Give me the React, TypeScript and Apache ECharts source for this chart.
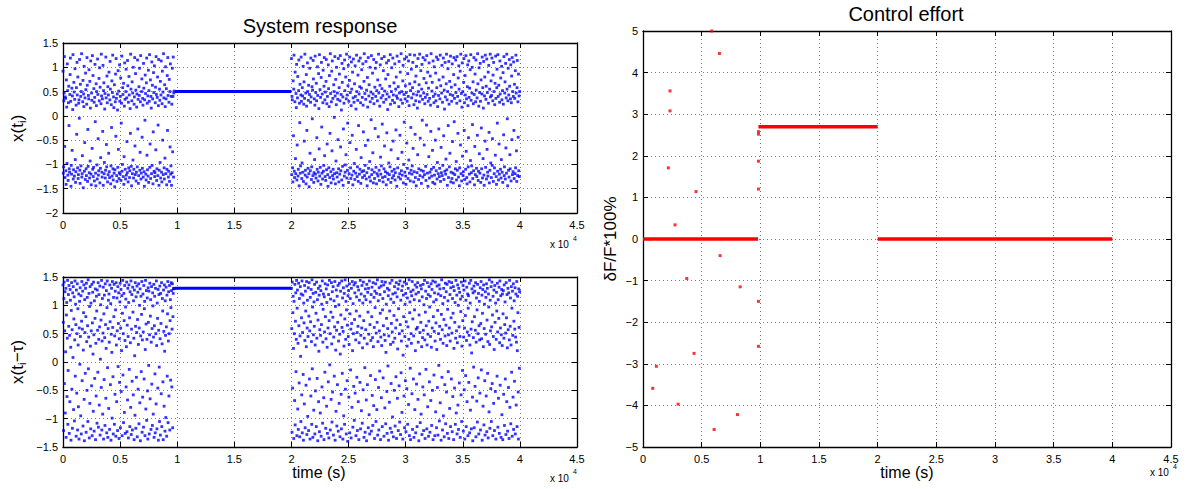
import React, { useEffect, useRef } from "react";
import * as echarts from "echarts";

// ---------- DATA ----------
// sampling: t_i = segStart + i * DT (s)
const DT = 25;
const seg1Start = 0;
const seg2Start = 20000;

// x(t_i), first chaotic segment
const xSeg1 = [
  0.92,-1.18,-1.05,0.31,0.47,1.22,-0.63,-1.27,0.39,0.36,-1.13,-1.41,0.74,0.18,-0.98,1.07,0.52,-1.22,-1.33,0.27,
  0.61,-0.2,-1.09,-1.16,0.44,0.85,1.19,0.3,-1.45,-1.02,-1.2,0.57,-0.71,0.41,0.13,1.26,-1.3,-1.11,0.69,0.49,
  -1.24,0.34,0.97,-0.9,-1.37,-1.15,0.22,0.58,-0.38,1.1,0.43,-1.07,0.8,-1.29,-1.21,0.26,0.33,-0.05,1.16,-1.12,
  -1.39,0.65,0.4,-1.03,0.5,1.28,-1.26,-1.19,-0.82,0.29,0.73,-1.48,0.45,0.19,1.02,-1.14,-0.55,0.37,-1.31,0.88,
  0.54,-1.09,-1.23,0.24,1.2,0.63,-1.35,-0.28,-1.04,0.42,0.35,0.95,-1.17,-1.28,0.71,-0.93,0.16,1.13,-1.2,-1.42,
  0.47,0.32,-0.67,1.24,-1.1,0.83,-1.25,-1.06,0.56,0.28,-1.34,0.38,1.06,-0.12,-1.18,-1.44,0.66,0.21,0.5,-1.01,
  -1.3,1.17,0.44,-0.47,-1.22,-1.13,0.77,0.31,0.99,-1.38,0.59,-1.08,-0.86,0.25,1.27,0.41,-1.16,-1.26,0.35,-0.32,
  1.04,-1.43,0.52,0.68,-1.19,-0.96,0.14,0.46,-1.28,-1.12,1.21,0.37,-0.59,-1.05,0.82,0.27,-1.36,0.6,-1.21,0.43,
  -0.77,0.9,-1.15,-1.27,0.33,1.12,0.55,-1.4,-1.03,0.23,-0.24,0.72,-1.24,0.48,1.25,-1.09,-1.32,0.39,0.17,-1.18,
  0.64,-1.46,-1.11,0.29,0.86,-0.42,1.18,0.36,-1.23,-1.35,0.45,0.12,-1.06,0.93,-0.69,0.51,-1.29,-1.17,1.05,0.3,
  -1.2,0.4,0.78,-1.33,-0.15,0.26,1.23,-1.14,-1.0,0.58,0.44,-1.25,0.67,-1.41,-0.84,0.2,1.09,0.34,-1.1,-1.3,
  0.5,0.96,-1.22,0.37,-0.53,-1.17,1.14,0.62,-1.36,0.28,-1.07,0.81,0.43,-1.27,-1.13,0.15,-0.36,1.27,0.55,-1.04,
  -1.44,0.31,0.7,-1.19,0.47,-0.91,1.0,-1.28,-1.1,0.24,0.39,1.2,-0.62,-1.21,0.87,0.53,-1.34,-1.16,0.18,0.45,
  -1.05,1.15,-0.27,0.34,-1.39,-1.23,0.6,0.42,0.98,-1.12,-0.75,0.29,1.24,-1.3,-1.18,0.5,0.76,-0.44,-1.08,0.36,
  0.22,-1.26,1.08,0.57,-1.15,-1.45,0.33,-0.09,0.84,0.46,-1.2,-1.32,0.68,1.19,-0.81,0.26,-1.11,0.41,-1.24,0.94,
  -1.37,0.52,0.3,1.26,-1.06,-0.58,0.74,-1.29,0.4,0.16,-1.19,1.11,-1.02,0.63,0.35,-1.4,-0.33,0.89,0.48,-1.14,
  1.03,-1.25,-1.17,0.27,0.59,-0.7,1.22,0.44,-1.33,-1.09,0.38,0.8,-1.23,-0.19,0.21,1.16,-1.43,-1.12,0.55,0.32,
  -0.96,0.71,-1.28,0.43,1.13,-1.16,-1.36,0.25,0.92,-0.5,0.49,-1.21,1.28,0.37,-1.07,-1.3,0.64,-0.87,0.19,1.01,
  -1.19,0.35,0.56,-1.42,-1.1,0.83,-0.3,1.2,0.42,-1.26,-1.14,0.28,0.75,-1.35,0.5,-0.64,1.07,-1.2,-1.03,0.4,
  -1.43,0.24,-1.17,0.98,-0.74,0.4,1.21,-1.26,0.47,0.51,
];
// x(t_i), second chaotic segment
const xSeg2 = [
  1.18,-1.21,0.4,0.33,-1.07,-1.36,0.72,-0.41,0.55,1.25,-1.14,-1.27,0.29,0.9,-0.88,-1.19,0.46,0.17,1.06,-1.32,
  -0.6,0.37,0.81,-1.24,-1.1,0.52,1.15,-1.44,0.26,-0.14,0.65,-1.18,-1.03,0.43,1.21,0.3,-1.29,-0.97,0.58,0.41,
  -1.16,1.02,-1.35,0.24,0.7,-0.52,0.36,1.27,-1.22,-1.12,0.47,-1.4,0.85,0.2,-0.3,-1.26,1.09,0.5,-1.08,0.32,
  0.63,-1.19,-1.46,0.44,0.98,-0.77,-1.13,0.28,1.19,0.39,-1.31,-1.05,0.6,-0.06,0.53,-1.23,1.14,0.76,-1.37,-1.17,
  0.35,-0.9,0.22,1.23,-1.2,0.48,-1.28,0.67,0.31,-0.45,-1.1,1.01,0.42,-1.34,-1.16,0.87,0.15,-0.68,1.26,-1.24,
  0.54,-1.06,0.38,-1.41,0.79,1.1,-0.23,-1.18,0.45,-1.3,0.27,0.94,-1.14,-1.02,0.61,1.2,-0.82,0.33,-1.25,0.49,
  -1.33,0.71,1.16,-1.11,0.25,-0.58,0.4,-1.21,-1.45,1.05,0.56,-1.07,0.19,0.83,-1.27,-0.36,1.28,0.46,-1.15,-1.38,
  0.29,0.92,-0.72,1.13,-1.23,0.36,-1.1,-1.3,0.64,0.5,-0.03,-1.19,1.22,0.41,-1.4,0.75,-0.93,0.23,1.0,-1.17,
  -1.26,0.47,0.34,-0.49,1.18,-1.09,-1.36,0.58,0.86,-1.2,0.31,1.24,-0.64,-1.13,0.44,0.12,-1.32,1.08,0.69,-1.04,
  0.39,-1.43,-0.27,0.97,0.26,-1.24,1.15,0.52,-1.16,-1.01,0.8,-0.8,0.35,1.27,-1.28,0.43,-1.12,-0.15,0.62,1.04,
  -1.37,0.3,-1.19,0.73,1.21,-0.55,0.48,-1.07,-1.29,0.21,1.11,0.55,-1.22,-0.4,0.9,-1.42,0.37,1.17,-1.14,0.28,
  -0.98,0.66,-1.31,1.03,0.4,-1.18,0.14,-0.69,1.25,0.5,-1.25,-1.05,0.32,0.84,-1.35,-0.2,1.13,0.45,-1.2,0.6,
  -1.1,1.19,0.27,-1.39,-0.86,0.57,0.95,-1.15,0.38,-1.27,1.07,0.22,-0.33,-1.13,0.71,1.28,-1.23,0.46,-1.02,-0.61,
  0.34,1.12,-1.3,0.53,-1.17,-1.44,0.79,0.18,-0.5,1.2,-1.08,0.41,0.64,-1.26,-0.94,1.0,0.29,-1.34,0.49,-0.08,
  1.24,-1.21,-1.11,0.36,0.88,-0.76,0.45,-1.38,1.16,0.25,-1.16,-1.29,0.59,-0.26,0.98,0.4,-1.06,1.1,-1.4,0.52,
  -1.19,0.31,0.74,-1.24,-0.43,1.27,0.47,-1.12,-1.33,0.2,0.63,1.05,-0.85,-1.2,0.37,-1.03,1.18,0.56,-0.17,-1.27,
  0.42,-1.36,0.93,0.28,-1.09,1.22,-0.62,0.51,-1.25,-1.15,0.76,0.34,-1.42,1.09,-0.35,0.45,-1.18,0.13,0.85,-1.31,
  1.14,-0.97,0.39,-1.21,0.61,-1.05,1.26,0.24,-1.37,-0.7,0.5,0.99,-1.14,-1.28,0.32,1.19,-0.52,0.43,-1.23,0.68,
  -1.1,0.27,1.07,-1.32,-1.17,0.55,-0.29,0.8,0.41,-1.45,1.23,0.36,-1.07,-0.88,0.6,-1.26,0.19,1.12,0.47,-1.19,
  -0.4,0.9,-1.3,0.33,1.28,-1.13,0.5,-0.75,-1.22,0.26,0.72,1.04,-1.38,-1.0,0.44,-0.13,1.17,-1.16,0.35,0.62,
  -1.24,-1.41,0.48,1.21,-0.56,0.3,-1.08,0.87,-1.29,0.4,1.13,-0.91,0.21,-1.18,0.66,1.26,-1.34,0.52,-0.24,-1.12,
  0.96,0.37,-1.2,-1.03,0.58,1.1,-0.67,0.45,-1.36,0.23,-1.15,1.25,0.7,-0.38,-1.27,0.31,0.82,-1.44,1.02,0.43,
  -1.17,0.16,-0.8,1.18,0.5,-1.31,-1.09,0.64,0.29,1.27,-1.23,-0.46,0.41,0.93,-1.12,-1.39,0.55,1.06,-0.09,0.34,
  -1.26,1.2,-1.14,0.47,0.77,-0.6,-1.21,0.25,1.15,0.38,-1.04,-1.33,0.68,-0.19,1.24,0.44,-1.18,0.9,-1.45,0.3,
  0.57,-0.84,1.09,-1.28,0.36,-1.16,0.82,0.22,-0.32,1.28,-1.1,-1.24,0.51,0.69,-0.71,-1.37,1.13,0.4,-1.06,0.27,
  1.01,-1.22,-1.4,0.45,-0.5,0.88,0.31,-1.13,1.21,0.58,-1.3,-0.96,0.19,1.16,-1.19,0.42,-0.27,0.74,-1.25,-1.08,
  0.35,1.25,-1.35,0.62,-0.65,-1.17,0.47,1.04,-1.23,0.28,-1.02,0.8,1.19,-0.41,-1.31,0.53,0.14,-1.14,1.1,0.39,
  -1.2,-0.89,0.66,1.27,-1.11,0.33,-1.43,0.5,0.97,-0.2,-1.27,1.12,0.24,-1.05,0.71,-0.77,0.44,1.23,-1.36,-1.16,
  0.59,0.3,-1.29,1.07,-0.53,0.42,-1.18,-1.38,0.85,1.2,-0.12,0.36,-1.21,0.64,-1.09,1.15,0.48,-0.94,-1.32,0.26,
  1.22,-1.12,0.4,-0.36,0.78,-1.26,1.03,0.55,-1.44,-1.07,0.31,0.92,-0.6,1.27,-1.19,0.46,-1.34,0.18,1.09,-0.83,
  0.5,-1.23,-1.15,0.69,1.18,-0.3,0.27,-1.31,0.83,0.43,-1.1,1.24,-0.73,0.35,-1.27,-1.4,0.6,1.05,0.21,-1.05,
  -0.45,1.13,0.38,-1.2,0.57,-1.36,0.95,-0.92,1.26,0.32,-1.17,-1.03,0.47,1.0,-0.18,-1.29,0.7,0.25,-1.13,1.2,
  0.44,-1.42,-0.63,0.86,-1.21,0.29,1.15,0.53,-1.08,-1.25,0.37,-0.4,1.28,0.66,-1.33,-1.14,0.2,0.99,-0.78,0.48,
  -1.18,1.08,0.3,-1.37,0.74,-0.25,-1.09,0.45,1.21,-1.28,0.58,-0.88,0.16,1.12,-1.22,-1.43,0.41,0.8,-0.52,1.25,
  -1.06,0.34,0.61,-1.3,1.17,-0.69,0.48,-1.16,-1.24,0.9,0.26,1.04,-0.34,-1.38,0.55,-1.12,1.27,0.39,-0.97,0.72,
  -1.27,0.42,1.19,-1.02,-0.47,0.31,0.84,-1.35,1.1,0.5,-1.19,-1.07,0.23,0.67,-0.81,1.23,0.36,-1.25,-1.41,0.58,
  0.96,-0.15,-1.14,1.26,0.4,-1.32,0.63,-0.58,-1.2,0.28,1.13,0.45,-1.1,0.78,-1.28,-0.9,1.02,0.33,-1.16,0.52,
  -1.37,0.89,0.24,-0.39,1.22,-1.23,-1.05,0.47,0.7,-1.3,1.08,-0.66,0.37,-1.18,1.27,0.55,-0.06,-1.44,0.31,0.98,
  -1.12,0.43,-1.26,1.16,0.61,-0.8,-1.09,0.35,1.05,-1.34,0.27,0.82,-0.49,1.2,-1.21,0.5,-1.15,0.4,1.11,-0.3,
  -1.29,0.65,0.36,-1.19,0.93,-1.07,1.25,0.47,-0.72,-1.35,0.58,1.14,-1.23,0.29,-0.44,0.86,-1.13,0.41,-1.25,0.5,
];
// x(t_i - tau), first chaotic segment
const xdSeg1 = [
  1.36,0.7,-1.21,1.12,1.41,-0.38,0.55,1.24,-0.9,0.18,1.3,-1.33,0.83,1.05,-0.61,0.42,1.44,-1.1,-0.15,1.19,
  0.63,1.35,-1.26,0.47,-0.7,1.28,1.09,0.26,-1.38,0.91,1.4,-0.48,0.57,-1.17,1.22,0.08,1.33,-0.84,0.76,1.15,
  -1.04,0.39,1.43,-0.25,1.02,0.66,-1.31,1.27,-0.55,0.5,1.38,-1.2,0.94,0.3,-0.79,1.2,-1.36,0.6,1.07,-0.04,
  1.31,0.45,-0.95,1.17,-1.27,0.72,1.42,-0.33,0.58,1.25,-1.13,0.21,0.87,1.36,-0.66,-1.39,1.1,0.52,-0.2,1.3,
  0.8,-1.24,1.39,0.36,-0.5,1.14,0.64,-1.05,1.45,-0.12,0.44,1.21,-1.34,0.98,-0.73,1.33,0.28,-1.18,1.04,0.55,
  -0.42,1.37,-1.3,0.69,1.23,0.14,-0.87,1.41,0.48,-1.22,1.08,-0.29,0.77,1.29,-1.37,0.33,-0.6,1.16,0.9,-1.08,
  1.27,0.56,-0.18,1.4,-1.15,0.4,1.19,-0.76,0.62,1.34,-1.29,0.05,1.01,0.74,-0.45,1.44,-1.2,0.37,1.12,-0.92,
  0.51,1.32,-1.36,0.85,-0.31,1.18,0.43,-1.12,1.38,0.66,-0.64,0.24,1.26,-1.25,0.96,1.43,-0.1,-1.33,0.59,1.09,
  -0.82,1.2,0.35,-1.19,1.36,0.71,-0.4,1.03,-1.38,0.49,1.3,0.17,-0.99,1.42,0.61,-0.26,-1.27,1.14,0.8,1.37,
  -1.1,0.46,-0.57,1.25,0.92,-1.31,1.4,0.3,-0.7,1.13,0.55,-1.21,1.33,-0.08,0.68,1.22,-1.35,0.41,-0.36,1.06,
  1.39,-1.16,0.6,1.28,-0.52,0.2,1.17,-1.3,0.86,1.44,-0.23,0.5,-1.07,1.21,0.73,-0.89,1.35,0.38,-1.26,0.97,
  1.11,-0.44,0.27,1.41,-1.23,0.65,-0.67,1.3,0.45,-1.34,1.05,1.36,-0.13,0.78,-1.14,1.24,0.34,-0.8,1.43,-1.28,
  0.58,1.19,-0.34,-1.2,1.32,0.88,-0.58,1.08,0.42,-1.37,1.27,0.11,-0.94,1.4,0.63,-1.17,1.15,-0.27,0.52,1.34,
  -1.32,0.75,1.23,-0.48,0.31,1.38,-1.09,0.6,1.0,-0.72,1.29,-1.39,0.46,1.16,-0.17,0.84,1.42,-1.24,0.39,-0.62,
  1.2,0.53,-1.15,1.35,-0.3,0.94,1.07,-1.3,0.22,1.44,-0.83,0.67,1.26,-1.03,0.4,1.13,-0.51,-1.36,1.31,0.7,
  -0.06,1.25,-1.27,0.48,1.39,-0.65,0.81,1.1,-1.19,0.35,1.33,-0.39,0.59,-1.12,1.22,0.99,-0.92,0.44,1.37,-1.33,
  0.64,1.16,-0.21,-1.25,1.3,0.5,-0.74,1.43,0.29,-1.18,1.04,0.77,-0.46,1.28,-1.38,0.56,1.19,-0.09,-1.05,1.34,
  0.41,-1.29,1.21,0.68,-0.56,1.4,-1.14,0.32,1.12,0.9,-0.35,-1.37,1.27,0.54,-0.78,1.36,0.19,-1.22,1.08,0.47,
  -0.98,1.32,0.62,-1.31,1.18,-0.25,0.85,1.42,-1.07,0.37,1.24,-0.6,0.5,1.35,-1.2,0.73,1.1,-0.32,0.96,1.4,
  1.26,-0.44,0.58,1.38,-1.16,0.8,1.21,1.29,1.3,1.3,
];
// x(t_i - tau), second chaotic segment
const xdSeg2 = [
  1.3,0.59,-1.24,1.41,-0.46,0.87,1.16,0.24,-1.35,1.07,0.5,-0.68,1.37,-1.11,0.72,1.22,-0.17,0.4,1.44,-1.3,
  0.95,1.27,-0.83,0.33,-1.19,1.39,0.64,-0.37,1.12,-1.32,0.46,1.33,0.1,-1.05,1.2,0.78,-0.58,1.43,-1.25,0.52,
  1.18,-0.22,-1.38,1.04,0.69,-0.74,1.35,0.38,-1.16,1.25,0.9,-0.41,0.27,1.42,-1.28,0.6,1.09,-0.96,0.45,1.31,
  -1.21,0.81,1.4,-0.3,0.55,-1.36,1.14,0.71,-0.6,1.28,0.36,-1.1,1.45,-0.12,0.97,-1.33,1.21,0.48,-0.85,1.06,
  0.63,1.37,-1.27,0.3,-0.51,1.23,0.86,-1.14,1.41,0.42,-0.29,1.1,-1.39,0.74,1.3,-0.7,0.19,1.18,-1.23,0.57,
  1.34,-0.9,0.47,1.26,-1.31,0.66,1.02,-0.44,1.43,-1.08,0.35,0.93,1.2,-0.63,-1.37,1.15,0.53,-0.18,1.38,0.8,
  -1.17,0.41,1.29,-0.78,1.05,0.26,-1.26,1.36,0.6,-0.35,1.19,-1.34,0.73,1.44,-0.05,0.5,-1.2,1.11,0.88,-0.66,
  1.4,0.32,-1.06,1.24,-0.53,0.79,1.33,-1.29,0.44,1.08,-0.25,0.62,1.42,-1.38,0.98,0.21,-0.87,1.27,0.56,-1.13,
  1.16,-0.4,0.7,1.35,-1.22,0.37,1.01,-0.73,1.39,0.49,-1.32,0.14,1.25,0.83,-0.57,-1.18,1.43,0.61,-0.2,1.13,
  -1.36,0.54,1.31,-0.95,0.28,1.21,-1.1,0.76,1.45,-0.48,0.4,1.07,-1.27,0.92,1.34,-0.33,0.65,-1.4,1.17,0.45,
  1.26,-0.62,0.31,1.38,-1.25,0.85,1.12,-0.14,0.58,-1.34,1.3,0.68,-0.8,1.42,0.2,-1.15,1.03,0.5,-0.43,1.36,
  -1.03,0.75,1.22,-0.55,1.4,0.39,-1.3,0.9,1.15,-0.27,0.52,-1.21,1.33,0.63,-0.7,1.27,-1.37,0.34,1.09,0.81,
  -0.36,1.44,-1.18,0.47,1.2,-0.86,0.6,1.35,-1.08,0.25,1.04,-0.49,1.41,0.73,-1.33,0.42,1.16,-0.1,-1.24,1.29,
  0.57,1.1,-0.67,-1.39,1.37,0.32,-0.4,1.23,0.88,-1.16,1.3,0.49,-0.93,1.43,-1.27,0.66,1.06,-0.24,0.38,1.19,
  -1.22,0.8,1.32,-0.59,0.43,-1.12,1.4,0.27,-0.77,1.14,0.61,-1.35,1.25,0.96,-0.31,1.38,-1.05,0.51,1.21,-0.84,
  0.7,1.45,-1.29,0.36,1.08,-0.45,-1.2,1.31,0.55,-0.16,1.19,0.86,-1.37,0.44,1.34,-0.63,0.29,1.42,-1.14,0.92,
  1.12,-0.28,0.64,1.36,-1.31,0.48,1.24,-0.81,0.38,1.41,-1.09,0.17,1.02,0.77,-0.52,-1.26,1.3,0.59,-0.07,1.17,
  -1.38,0.46,1.27,-0.71,0.9,1.39,-1.17,0.31,1.11,-0.38,0.68,-1.24,1.44,0.53,-0.97,1.2,0.35,-1.32,1.05,0.82,
  -0.5,1.33,0.42,-1.13,1.22,0.6,-0.26,1.4,-1.35,0.74,1.15,-0.64,0.23,1.29,-1.21,0.94,1.37,-0.42,0.5,-1.06,
  1.43,0.66,-1.28,1.09,-0.19,0.37,1.26,-0.89,0.55,1.34,-1.36,0.12,1.18,0.8,-0.6,1.41,-1.16,0.45,1.02,-0.33,
  1.21,-1.23,0.71,1.38,-0.47,0.28,1.13,-1.1,0.62,1.3,-0.75,0.4,1.45,-1.3,0.87,1.06,-0.11,-1.37,1.24,0.5,
  0.33,1.17,-0.56,1.42,-1.19,0.76,1.27,-0.3,0.46,-1.33,1.1,0.92,-0.84,1.36,0.2,-1.25,1.2,0.58,-0.39,1.32,
  -1.14,0.61,1.4,-0.66,0.35,1.23,-1.39,0.83,1.08,-0.21,0.52,-1.07,1.35,0.7,-0.92,1.29,0.27,-1.28,1.15,0.43,
  -0.44,1.37,0.56,-1.21,1.01,-0.58,1.44,0.39,-1.35,0.88,1.25,-0.13,0.64,1.12,-1.18,0.3,1.4,-0.79,0.49,1.19,
  -1.31,0.72,1.33,-0.35,0.97,-1.24,1.16,0.45,-0.68,1.38,0.26,-1.12,1.28,0.6,-0.5,1.43,-1.37,0.8,1.06,-0.23,
  0.54,1.22,-1.3,0.37,1.41,-0.88,0.69,1.1,-1.16,0.22,1.34,-0.45,0.91,-1.29,1.2,0.5,-0.06,1.36,-1.04,0.63,
  1.29,-0.72,0.4,1.17,-1.38,0.84,1.45,-0.27,0.57,-1.2,1.03,0.33,-0.95,1.3,0.75,-1.32,1.14,-0.4,0.46,1.39,
  -1.09,0.65,1.24,-0.53,0.29,1.37,-1.26,0.93,1.08,-0.17,0.48,-1.35,1.42,0.6,-0.82,1.19,0.37,-1.14,1.31,0.78,
  -0.3,1.4,0.51,-1.23,1.12,-0.61,0.86,1.33,-1.37,0.24,1.26,-0.46,0.7,1.05,-1.1,0.42,1.44,-0.9,0.55,1.18,
  -1.27,0.34,1.36,-0.76,1.0,-1.19,1.3,0.62,-0.37,1.23,0.45,-1.33,1.11,0.89,-0.58,1.41,-1.05,0.28,1.16,-0.15,
  0.73,1.35,-1.22,0.44,1.27,-0.49,0.6,-1.36,1.43,0.82,-0.24,1.09,-1.14,0.38,1.32,-0.7,0.53,1.2,-1.3,0.95,
  1.17,-0.36,0.47,1.39,-1.25,0.3,1.04,-0.85,1.44,0.58,-1.18,0.16,1.29,0.71,-0.62,-1.39,1.22,0.43,-0.09,1.34,
  -1.16,0.8,1.25,-0.43,0.56,1.4,-1.32,0.35,1.13,-0.69,0.92,-1.06,1.37,0.5,-0.28,1.21,-1.27,0.64,1.07,0.39,
  -0.55,1.31,-1.2,0.68,1.42,-0.14,0.41,1.18,-1.38,0.86,1.28,-0.78,0.27,1.36,-1.11,0.59,1.02,-0.33,-1.29,1.24,
  0.49,1.14,-0.6,1.38,-1.23,0.74,1.3,-0.2,0.36,-1.34,1.2,0.97,-0.88,1.45,0.31,-1.17,1.09,0.55,-0.47,1.33,
  -1.05,0.62,1.41,-0.38,0.83,-1.3,1.16,0.45,-0.73,1.27,0.22,-1.21,1.35,0.7,-0.52,1.04,-1.36,0.4,1.23,0.9,
  -0.25,1.39,0.53,-1.15,1.1,-0.64,0.77,1.32,-1.26,0.34,1.43,-0.41,0.6,1.17,-1.33,0.48,1.28,-0.93,0.29,1.2,
  -1.37,0.85,1.26,-0.57,0.42,1.36,-1.12,0.66,1.06,-0.3,0.51,-1.28,1.4,0.78,-0.7,1.19,0.25,-1.22,1.3,0.57,
  -0.45,1.22,-1.35,0.39,1.44,-0.8,0.63,1.13,-1.09,0.3,1.33,-0.18,0.95,-1.31,1.25,0.47,-0.62,1.38,-1.19,0.72,
  1.08,-0.34,0.58,1.31,-1.27,0.44,1.2,-0.76,0.35,1.42,-1.14,0.2,1.16,0.87,-0.53,-1.36,1.29,0.61,-0.11,1.24,
];
// controlled (held) interval
const holdT = [9800, 20000];
const holdX = 0.5;
const holdXd = 1.3;
// control effort dF/F*100%
const effortT = [5860,6510,2300,2300,2160,4520,2730,9840,9840,9840,9840,6570,3730,8280,9840,9840,4350,1140,830,2990,8050,6060];
const effortV = [5.0,4.46,3.56,3.08,1.71,1.14,0.34,2.58,2.52,1.87,1.2,-0.4,-0.95,-1.15,-1.5,-2.58,-2.75,-3.06,-3.59,-3.97,-4.22,-4.58];
const stepStart = [0, 9840, 20000];
const stepEnd = [9800, 20000, 40000];
const stepValue = [0, 2.7, 0];

// axis ranges
const X_MIN = 0, X_MAX = 45000, X_STEP = 5000;
const Y1 = { min: -2, max: 1.5, step: 0.5 };
const Y2 = { min: -1.5, max: 1.5, step: 0.5 };
const Y3 = { min: -5, max: 5, step: 1 };

// ---------- STYLE ----------
const FONT = '"Liberation Sans", Arial, Helvetica, sans-serif';
const BLUE = "#0000ff";
const RED = "#ff0000";
const GRID_LINE = { color: "#7a7a7a", type: [1, 3] as any, width: 1 };
const fmt = (v: number) => String(Math.round(v * 100) / 100).replace("-", "\u2212");

function mainX(gi: number) {
  return {
    type: "value", gridIndex: gi, position: "bottom",
    min: X_MIN, max: X_MAX, interval: X_STEP,
    axisLine: { show: true, onZero: false, lineStyle: { color: "#000", width: 1.3 } },
    axisTick: { show: true, inside: true, length: 5, lineStyle: { color: "#000" } },
    axisLabel: { show: true, color: "#000", fontSize: 11, fontFamily: FONT, margin: 6, formatter: (v: number) => fmt(v / 10000) },
    splitLine: { show: true, lineStyle: GRID_LINE },
  };
}
function mirrorX(gi: number) {
  return {
    type: "value", gridIndex: gi, position: "top",
    min: X_MIN, max: X_MAX, interval: X_STEP,
    axisLine: { show: true, onZero: false, lineStyle: { color: "#000", width: 1.3 } },
    axisTick: { show: true, inside: true, length: 5, lineStyle: { color: "#000" } },
    axisLabel: { show: false },
    splitLine: { show: false },
  };
}
function mainY(gi: number, r: { min: number; max: number; step: number }) {
  return {
    type: "value", gridIndex: gi, position: "left",
    min: r.min, max: r.max, interval: r.step,
    axisLine: { show: true, onZero: false, lineStyle: { color: "#000", width: 1.3 } },
    axisTick: { show: true, inside: true, length: 5, lineStyle: { color: "#000" } },
    axisLabel: { show: true, color: "#000", fontSize: 11, fontFamily: FONT, margin: 5, formatter: (v: number) => fmt(v) },
    splitLine: { show: true, lineStyle: GRID_LINE },
  };
}
function mirrorY(gi: number, r: { min: number; max: number; step: number }) {
  return {
    type: "value", gridIndex: gi, position: "right",
    min: r.min, max: r.max, interval: r.step,
    axisLine: { show: true, onZero: false, lineStyle: { color: "#000", width: 1.3 } },
    axisTick: { show: true, inside: true, length: 5, lineStyle: { color: "#000" } },
    axisLabel: { show: false },
    splitLine: { show: false },
  };
}

function txt(text: string, x: number, y: number, size: number, align = "center", extra: any = {}) {
  return {
    type: "text", x, y, silent: true,
    style: {
      text, fill: "#000", fontSize: size, fontFamily: FONT,
      align, verticalAlign: "middle", textAlign: align, textVerticalAlign: "middle",
      ...extra,
    },
  };
}

function rotatedGroup(cx: number, cy: number, children: any[]) {
  return { type: "group", x: cx, y: cy, rotation: Math.PI / 2, children };
}

function toPoints(start: number, values: number[]) {
  return values.map((v, i) => [start + i * DT, v]);
}

export default function App() {
  const ref = useRef<HTMLDivElement>(null);

  useEffect(() => {
    if (!ref.current) return;
    const chart = echarts.init(ref.current, undefined, { renderer: "svg" });

    const topPts = toPoints(seg1Start, xSeg1).concat(toPoints(seg2Start, xSeg2));
    const botPts = toPoints(seg1Start, xdSeg1).concat(toPoints(seg2Start, xdSeg2));
    const effPts = effortT.map((t, i) => [t, effortV[i]]);

    const scatterBase = { type: "scatter", symbol: "rect", symbolSize: 2.8, silent: true, clip: false, progressive: 0 };

    const series: any[] = [
      { ...scatterBase, xAxisIndex: 0, yAxisIndex: 0, data: topPts, itemStyle: { color: BLUE } },
      { type: "line", xAxisIndex: 0, yAxisIndex: 0, data: holdT.map((t) => [t, holdX]), showSymbol: false, silent: true, lineStyle: { color: BLUE, width: 3 } },
      { ...scatterBase, xAxisIndex: 2, yAxisIndex: 2, data: botPts, itemStyle: { color: BLUE } },
      { type: "line", xAxisIndex: 2, yAxisIndex: 2, data: holdT.map((t) => [t, holdXd]), showSymbol: false, silent: true, lineStyle: { color: BLUE, width: 3 } },
      ...stepStart.map((s, i) => ({
        type: "line", xAxisIndex: 4, yAxisIndex: 4, data: [[s, stepValue[i]], [stepEnd[i], stepValue[i]]],
        showSymbol: false, silent: true, lineStyle: { color: RED, width: 3.5 },
      })),
      { ...scatterBase, symbolSize: 3, xAxisIndex: 4, yAxisIndex: 4, data: effPts, itemStyle: { color: RED } },
    ];

    const option: any = {
      animation: false,
      backgroundColor: "#fff",
      grid: [
        { left: 63, top: 43, width: 514, height: 170 },
        { left: 63, top: 277, width: 514, height: 170 },
        { left: 643, top: 31, width: 528, height: 416 },
      ],
      xAxis: [mainX(0), mirrorX(0), mainX(1), mirrorX(1), mainX(2), mirrorX(2)],
      yAxis: [mainY(0, Y1), mirrorY(0, Y1), mainY(1, Y2), mirrorY(1, Y2), mainY(2, Y3), mirrorY(2, Y3)],
      series,
      graphic: [
        txt("System response", 320, 26, 20),
        txt("Control effort", 906, 14, 20),
        txt("time (s)", 319, 472, 16),
        txt("time (s)", 907, 472, 16),
        // x 10^4 multipliers
        txt("x 10", 550, 244, 10, "left"),
        txt("4", 573, 238, 7, "left"),
        txt("x 10", 550, 478, 10, "left"),
        txt("4", 573, 471, 7, "left"),
        txt("x 10", 1150, 472, 10, "left"),
        txt("4", 1173, 466, 7, "left"),
        // y-axis titles (rotated)
        rotatedGroup(17, 128, [
          txt("x(t", -14, 0, 17, "left"),
          txt("i", 5, 5, 11, "left"),
          txt(")", 7.8, 0, 17, "left"),
        ]),
        rotatedGroup(17, 362, [
          txt("x(t", -22, 0, 17, "left"),
          txt("i", -3, 5, 11, "left"),
          txt("\u2212\u03c4)", -0.2, 0, 17, "left"),
        ]),
        rotatedGroup(610, 239, [txt("\u03b4F/F*100%", 0, 0, 17)]),
      ],
    };

    chart.setOption(option);
    return () => chart.dispose();
  }, []);

  return <div ref={ref} style={{ position: "absolute", left: 0, top: 0, width: 1189, height: 489, background: "#fff" }} />;
}
